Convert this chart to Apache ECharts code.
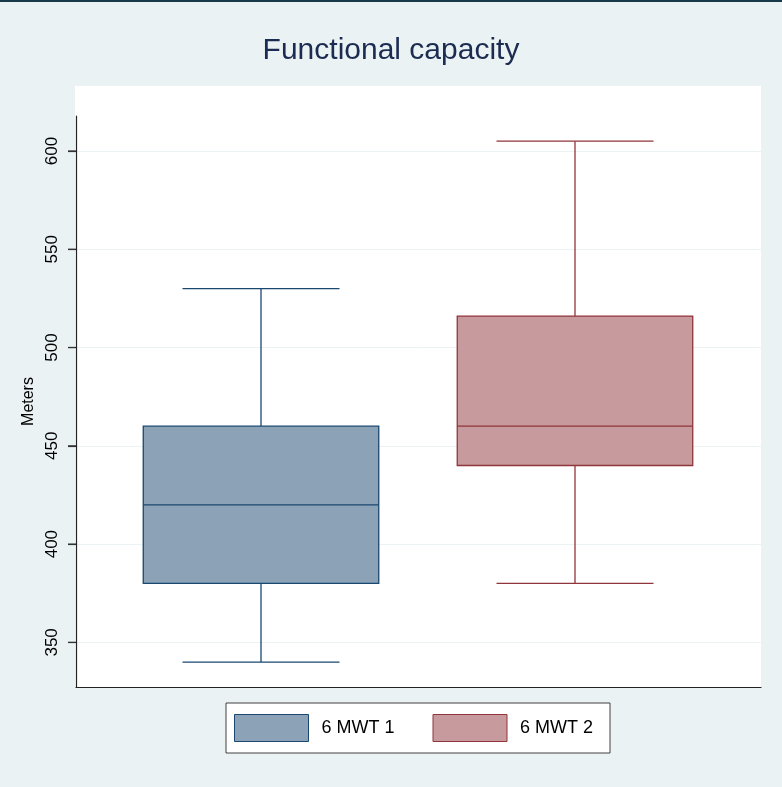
<!DOCTYPE html>
<html>
<head>
<meta charset="utf-8">
<script src="https://cdn.jsdelivr.net/npm/echarts@6/dist/echarts.min.js"></script>
<style>
  html, body { margin: 0; padding: 0; background: #eaf2f3; }
  #chart { width: 782px; height: 787px; }
</style>
</head>
<body>
<div id="chart"></div>
<script>
// ---- data ----
var groupNames = ['6 MWT 1', '6 MWT 2'];
var groupPositions = [1, 2];
// [min, Q1, median, Q3, max]
var stats1 = [340, 380, 420, 460, 530];
var stats2 = [380, 440, 460, 516, 605];
var yTickValues = [350, 400, 450, 500, 550, 600];
var yAxisTitle = 'Meters';
var chartTitle = 'Functional capacity';

// ---- styling / axis extents ----
var X_MIN = 0.4108, X_MAX = 2.5924;
var Y_MIN = 327.3, Y_MAX = 617.8;
var fills = ['#8ca3b7', '#c79a9d'];
var strokes = ['#1a476f', '#90353b'];
var BOX_FRAC = 0.75;
var CAP_FRAC = 0.5;
var TICK_LEN = 8;
var FONT = '"Liberation Sans", Arial, sans-serif';

function makeRender(idx) {
  return function (params, api) {
    var x = api.value(0);
    var pMin = api.coord([x, api.value(1)]);
    var pQ1 = api.coord([x, api.value(2)]);
    var pMed = api.coord([x, api.value(3)]);
    var pQ3 = api.coord([x, api.value(4)]);
    var pMax = api.coord([x, api.value(5)]);
    var unit = api.size([1, 0])[0];
    var bw = unit * BOX_FRAC;
    var cw = unit * CAP_FRAC;
    var cx = pMed[0];
    var lineStyle = { stroke: strokes[idx], lineWidth: 1.3, fill: null };
    return {
      type: 'group',
      children: [
        { type: 'line', shape: { x1: cx, y1: pQ3[1], x2: cx, y2: pMax[1] }, style: lineStyle },
        { type: 'line', shape: { x1: cx, y1: pQ1[1], x2: cx, y2: pMin[1] }, style: lineStyle },
        { type: 'line', shape: { x1: cx - cw / 2, y1: pMax[1], x2: cx + cw / 2, y2: pMax[1] }, style: lineStyle },
        { type: 'line', shape: { x1: cx - cw / 2, y1: pMin[1], x2: cx + cw / 2, y2: pMin[1] }, style: lineStyle },
        { type: 'rect', shape: { x: cx - bw / 2, y: pQ3[1], width: bw, height: pQ1[1] - pQ3[1] },
          style: { fill: fills[idx], stroke: strokes[idx], lineWidth: 1.3 } },
        { type: 'line', shape: { x1: cx - bw / 2, y1: pMed[1], x2: cx + bw / 2, y2: pMed[1] }, style: lineStyle }
      ]
    };
  };
}

var allStats = [stats1, stats2];
var series = allStats.map(function (s, i) {
  return {
    name: groupNames[i],
    type: 'custom',
    renderItem: makeRender(i),
    itemStyle: { color: fills[i], borderColor: strokes[i], borderWidth: 1 },
    encode: { x: 0, y: [1, 2, 3, 4, 5] },
    data: [[groupPositions[i]].concat(s)],
    z: 5
  };
});

// tick marks on the y axis (drawn through the y scale)
series.push({
  name: 'yticks',
  type: 'custom',
  clip: false,
  silent: true,
  z: 6,
  encode: { x: 0, y: 1 },
  data: yTickValues.map(function (v) { return [X_MIN, v]; }),
  renderItem: function (params, api) {
    var p = api.coord([api.value(0), api.value(1)]);
    return {
      type: 'line',
      shape: { x1: p[0] - TICK_LEN, y1: p[1], x2: p[0], y2: p[1] },
      style: { stroke: '#333333', lineWidth: 1.2, fill: null }
    };
  }
});

var chart = echarts.init(document.getElementById('chart'), null, { renderer: 'canvas' });
chart.setOption({
  backgroundColor: '#eaf2f3',
  animation: false,
  title: {
    text: chartTitle,
    left: 'center',
    top: 31,
    textStyle: { fontFamily: FONT, fontSize: 30, fontWeight: 'normal', color: '#1c2b52' }
  },
  graphic: {
    elements: [
      { type: 'rect', z: -100, shape: { x: 75, y: 86, width: 686, height: 601 }, style: { fill: '#ffffff' }, silent: true },
      { type: 'rect', z: 100, shape: { x: 0, y: 0, width: 782, height: 2 }, style: { fill: '#17394a' }, silent: true }
    ]
  },
  legend: {
    data: groupNames.map(function (n, i) {
      return { name: n, icon: 'rect', itemStyle: { color: fills[i], borderColor: strokes[i], borderWidth: 1 } };
    }),
    left: 226,
    top: 703,
    orient: 'horizontal',
    itemWidth: 74,
    itemHeight: 27,
    itemGap: 38,
    padding: [11, 17, 11, 8],
    backgroundColor: '#ffffff',
    borderColor: '#404040',
    borderWidth: 1,
    borderRadius: 0,
    textStyle: { fontFamily: FONT, fontSize: 18, color: '#000', padding: [0, 0, 0, 8] }
  },
  grid: { left: 76, right: 21, top: 116, bottom: 100, containLabel: false },
  xAxis: {
    type: 'value',
    min: X_MIN,
    max: X_MAX,
    axisLine: { show: true, onZero: false, lineStyle: { color: '#222', width: 1.2 } },
    axisTick: { show: false },
    axisLabel: { show: false },
    splitLine: { show: false }
  },
  yAxis: {
    type: 'value',
    min: Y_MIN,
    max: Y_MAX,
    name: yAxisTitle,
    nameLocation: 'middle',
    nameGap: 38,
    nameRotate: 90,
    nameTextStyle: { fontFamily: FONT, fontSize: 16, color: '#000' },
    axisLine: { show: true, onZero: false, lineStyle: { color: '#222', width: 1.2 } },
    axisTick: { show: true, length: TICK_LEN, customValues: yTickValues, lineStyle: { color: '#333', width: 1.2 } },
    axisLabel: {
      customValues: yTickValues,
      rotate: 90,
      margin: 15,
      fontFamily: FONT,
      fontSize: 17,
      color: '#000'
    },
    splitLine: { show: true, lineStyle: { color: '#eaf2f3', width: 1 } }
  },
  series: series
});
</script>
</body>
</html>
